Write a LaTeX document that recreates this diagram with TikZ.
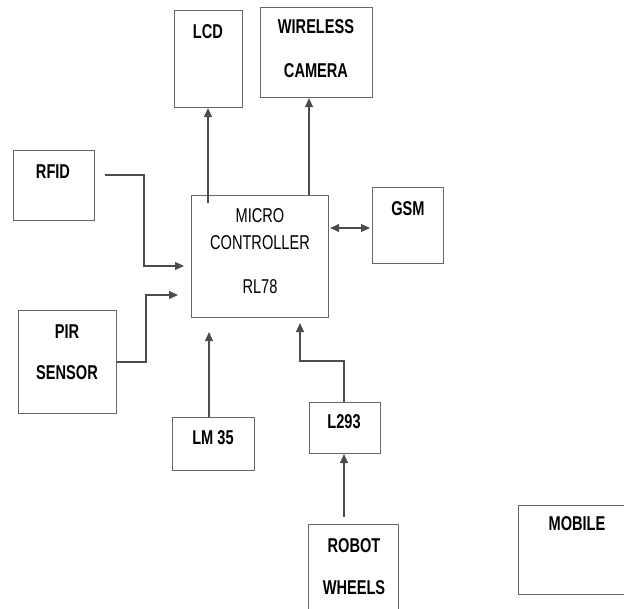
\documentclass[tikz,border=0pt]{standalone}
\usepackage{fontspec}
\setmainfont{Liberation Sans}[FakeStretch=0.73]
\usetikzlibrary{arrows.meta}
\tikzset{
  blk/.style={draw=black!60, line width=1.1pt, anchor=north west, inner sep=0pt},
  lbl/.style={font=\fontsize{20}{22}\selectfont\bfseries, inner sep=1pt},
  mctxt/.style={font=\fontsize{20}{22}\selectfont, inner sep=1pt},
  wire/.style={draw=black!70, line width=1.1pt},
  arr/.style={wire, -{Triangle[length=9pt,width=8pt]}},
  arrboth/.style={wire, {Triangle[length=9pt,width=8pt]}-{Triangle[length=9pt,width=8pt]}}
}
\begin{document}
\begin{tikzpicture}[x=1pt,y=-1pt]
\useasboundingbox (0,0) rectangle (624,608);
% blocks
\node[blk, minimum width=68, minimum height=97] (lcd) at (174,10) {};
\node[blk, minimum width=112, minimum height=90] (cam) at (260,7) {};
\node[blk, minimum width=81, minimum height=70] (rfid) at (13,150) {};
\node[blk, minimum width=137, minimum height=122] (mc) at (191,195) {};
\node[blk, minimum width=71, minimum height=76] (gsm) at (372,187) {};
\node[blk, minimum width=98, minimum height=103] (pir) at (18,310) {};
\node[blk, minimum width=82, minimum height=53] (lm) at (172,417) {};
\node[blk, minimum width=71, minimum height=51] (drv) at (309,402) {};
\node[blk, minimum width=90, minimum height=92] (robot) at (308,524) {};
\node[blk, minimum width=112, minimum height=89] (mobile) at (518,505) {};
% labels
\node[lbl] (lcdtxt) at (208,32) {LCD};
\node[lbl] (camtxt1) at (316,27) {WIRELESS};
\node[lbl] (camtxt2) at (316,71) {CAMERA};
\node[lbl] (rfidtxt) at (53,172) {RFID};
\node[mctxt] (mctxt1) at (260,216) {MICRO};
\node[mctxt] (mctxt2) at (260,243) {CONTROLLER};
\node[mctxt] (mctxt3) at (260,287) {RL78};
\node[lbl] (gsmtxt) at (408,209) {GSM};
\node[lbl] (pirtxt1) at (67,332) {PIR};
\node[lbl] (pirtxt2) at (67,373) {SENSOR};
\node[lbl] (lmtxt) at (213,438) {LM 35};
\node[lbl] (drvtxt) at (344,422) {L293};
\node[lbl] (robottxt1) at (354,546) {ROBOT};
\node[lbl] (robottxt2) at (354,588) {WHEELS};
\node[lbl] (mobiletxt) at (577,524) {MOBILE};
% connector ends
\coordinate (lcdin) at (208,203);
\coordinate (camin) at (309,195);
\coordinate (rfidout) at (105,175);
\coordinate (rfidin) at (184,266);
\coordinate (pirin) at (178,295);
\coordinate (lmin) at (209,332);
\coordinate (drvin) at (300,323);
\coordinate (robotout) at (344,517);
% connectors
\draw[arr] (lcdin) -- (lcdin |- lcd.south);
\draw[arr] (camin) -- (camin |- cam.south);
\draw[arr] (rfidout) -| (144,266) -- (rfidin);
\draw[arr] (pir.east |- 0,362) -| (146,295) -- (pirin);
\draw[arrboth] ([xshift=1]mc.east |- 0,228) -- ([xshift=-2]gsm.west |- 0,228);
\draw[arr] (lmin |- lm.north) -- (lmin);
\draw[arr] (robotout |- drv.north) |- (drvin |- 0,361) -- (drvin);
\draw[arr] (robotout) -- (robotout |- drv.south);
\end{tikzpicture}
\end{document}
